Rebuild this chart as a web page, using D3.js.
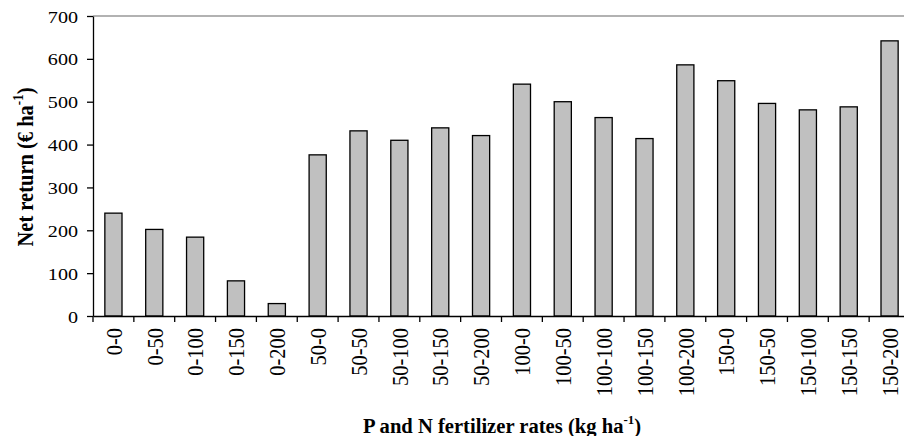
<!DOCTYPE html>
<html>
<head>
<meta charset="utf-8">
<script src="https://cdn.jsdelivr.net/npm/d3@7"></script>
<style>
  body { margin: 0; background: #fff; }
  svg { display: block; }
  text { font-family: "Liberation Serif", "Times New Roman", serif; fill: #000; }
</style>
</head>
<body>
<svg width="904" height="436"></svg>
<script>
// P-N fertilizer rate combinations (kg/ha)
var rates = ["0-0", "0-50", "0-100", "0-150", "0-200",
             "50-0", "50-50", "50-100", "50-150", "50-200",
             "100-0", "100-50", "100-100", "100-150", "100-200",
             "150-0", "150-50", "150-100", "150-150", "150-200"];
// net return (EUR/ha)
var netReturn = [240, 202, 184, 82, 29,
                 376, 432, 410, 439, 421,
                 541, 500, 463, 414, 586,
                 549, 496, 481, 488, 642];
var yTicks = [0, 100, 200, 300, 400, 500, 600, 700];

var svg = d3.select("svg"),
    margin = {top: 16, left: 93},
    plotRight = 910,   // plot runs a bit past the picture edge, like the original
    plotBottom = 316,
    sx = 1.15;         // original text looks stretched sideways

var xScale = d3.scaleBand()
    .domain(rates)
    .range([margin.left, plotRight]);

var yScale = d3.scaleLinear()
    .domain([0, 700])
    .range([plotBottom, margin.top]);

// top frame line
svg.append("line")
    .attr("x1", margin.left).attr("x2", plotRight)
    .attr("y1", yScale(700)).attr("y2", yScale(700))
    .attr("stroke", "#999").attr("stroke-width", 1.5);

// bars
var barW = xScale.bandwidth() * 0.42;
svg.selectAll(".bar")
    .data(netReturn)
    .enter().append("rect")
    .attr("class", "bar")
    .attr("x", function(d, i) { return xScale(rates[i]) + xScale.bandwidth() / 2 - barW / 2; })
    .attr("y", function(d) { return yScale(d); })
    .attr("width", barW)
    .attr("height", function(d) { return plotBottom - yScale(d); })
    .attr("fill", "#c0c0c0")
    .attr("stroke", "#000")
    .attr("stroke-width", 1.3);

// y axis
var yAxis = svg.append("g")
    .attr("transform", "translate(" + margin.left + ",0)")
    .call(d3.axisLeft(yScale).tickValues(yTicks).tickSize(6).tickSizeOuter(0));
yAxis.select(".domain").attr("stroke", "#000").attr("stroke-width", 1.3);
yAxis.selectAll(".tick line").attr("stroke", "#000").attr("stroke-width", 1.3);
yAxis.selectAll(".tick text")
    .attr("x", null).attr("dy", "0.35em")
    .attr("text-anchor", "end")
    .attr("transform", "translate(-15,0) scale(" + sx + ",1)")
    .style("font-size", "17.5px")
    .style("font-family", null);

// x axis: line + category labels at band centres
var xAxis = svg.append("g")
    .attr("transform", "translate(0," + plotBottom + ")")
    .call(d3.axisBottom(xScale).tickSize(0).tickSizeOuter(0));
xAxis.select(".domain").attr("stroke", "#000").attr("stroke-width", 1.3);
xAxis.selectAll(".tick text")
    .attr("y", null).attr("dy", "0.35em")
    .attr("text-anchor", "end")
    .attr("transform", "translate(0,12) scale(" + sx + ",1) rotate(-90)")
    .style("font-size", "20.5px")
    .style("font-family", null);

// tick marks between categories
var bounds = rates.map(function(r) { return xScale(r); }).concat([plotRight]);
svg.selectAll(".xtick")
    .data(bounds)
    .enter().append("line")
    .attr("class", "xtick")
    .attr("x1", function(d) { return d; }).attr("x2", function(d) { return d; })
    .attr("y1", plotBottom).attr("y2", plotBottom + 6)
    .attr("stroke", "#000").attr("stroke-width", 1.3);

// y title
var yt = svg.append("text")
    .attr("transform", "translate(33,167) scale(1.1,1) rotate(-90)")
    .attr("text-anchor", "middle")
    .style("font-size", "20.5px")
    .style("font-weight", "bold");
yt.append("tspan").text("Net return (\u20ac ha");
yt.append("tspan").attr("dy", -9).style("font-size", "13px").text("-1");
yt.append("tspan").attr("dy", 9).text(")");

// x title
var xt = svg.append("text")
    .attr("transform", "translate(502,433) scale(1.03,1)")
    .attr("text-anchor", "middle")
    .style("font-size", "20px")
    .style("font-weight", "bold");
xt.append("tspan").text("P and N fertilizer rates (kg ha");
xt.append("tspan").attr("dy", -9).style("font-size", "12.5px").text("-1");
xt.append("tspan").attr("dy", 9).text(")");
</script>
</body>
</html>
